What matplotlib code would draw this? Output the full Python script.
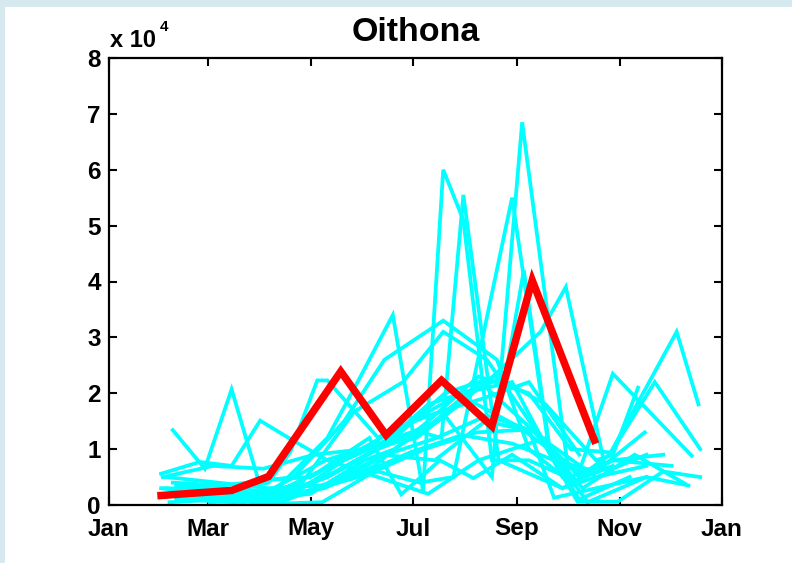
import matplotlib
matplotlib.use("Agg")
import matplotlib.pyplot as plt
from matplotlib.patches import Rectangle

plt.rcParams['font.family'] = ['Liberation Sans', 'DejaVu Sans']

title = "Oithona"
month_ticks = [0, 59, 120, 181, 243, 304, 365]
month_labels = ["Jan", "Mar", "May", "Jul", "Sep", "Nov", "Jan"]
y_ticks = [0, 1, 2, 3, 4, 5, 6, 7, 8]

# mean series (day of year, abundance)
mean_day = [31, 73, 95, 138, 165, 198, 228, 252, 289]
mean_val = [1700, 2600, 5100, 23900, 12500, 22300, 14100, 40200, 11600]

# individual years (day of year, abundance)
y01_day = [31, 59, 90, 120, 152, 170, 200, 228, 246, 274, 300, 330]
y01_val = [3000, 2000, 1000, 2000, 8000, 10000, 16000, 5000, 68500, 5000, 8000, 9000]
y02_day = [45, 75, 100, 130, 148, 169, 187, 199, 211, 228, 250, 280]
y02_val = [1000, 500, 3000, 12000, 22000, 34000, 2500, 60000, 51000, 8000, 8000, 4000]
y03_day = [40, 70, 100, 130, 160, 186, 198, 211, 221, 232, 270, 300]
y03_val = [1000, 1000, 2000, 5000, 10000, 13000, 12000, 55500, 33000, 8000, 3000, 6000]
y04_day = [60, 95, 125, 160, 185, 205, 240, 262, 285, 320]
y04_val = [500, 1000, 3000, 6000, 4000, 5000, 55000, 10000, 500, 5000]
y05_day = [35, 65, 100, 130, 160, 190, 220, 236, 247, 262, 290, 320]
y05_val = [3000, 2500, 1500, 5000, 10000, 18000, 21000, 23000, 42000, 11000, 5000, 7000]
y06_day = [45, 75, 105, 135, 165, 195, 225, 257, 272, 296, 320]
y06_val = [2000, 3000, 2000, 6000, 11000, 15000, 22000, 31000, 39000, 6000, 9000]
y07_day = [40, 70, 100, 135, 165, 195, 225, 255, 280, 298, 338, 351]
y07_val = [3500, 3000, 1000, 4000, 9000, 12000, 16000, 13000, 5000, 9000, 31000, 18000]
y08_day = [32, 62, 92, 122, 152, 183, 213, 244, 280, 300, 347]
y08_val = [5000, 7000, 6500, 9000, 10000, 12000, 19000, 14000, 6000, 23500, 8800]
y09_day = [35, 65, 95, 128, 158, 190, 220, 250, 275, 299, 325, 352]
y09_val = [2000, 1500, 1000, 3000, 7000, 15000, 23000, 20000, 10000, 9400, 22000, 10000]
y10_day = [45, 80, 110, 140, 170, 200, 230, 260, 290, 300, 315]
y10_val = [1000, 500, 2000, 8000, 12000, 20000, 23000, 18000, 8000, 9000, 21000]
y11_day = [38, 68, 110, 140, 164, 199, 231, 250, 275, 300]
y11_val = [4000, 3500, 5000, 15000, 26000, 33000, 26000, 10000, 4000, 7000]
y12_day = [50, 80, 115, 146, 175, 199, 225, 255, 280, 310]
y12_val = [1500, 1000, 4000, 16700, 22000, 31000, 26000, 13000, 1000, 5000]
y13_day = [40, 70, 95, 108, 124, 130, 160, 190, 222, 250, 280]
y13_val = [3000, 2500, 4000, 9500, 22300, 22300, 12100, 16000, 19000, 22000, 9000]
y14_day = [38, 57, 73, 89, 120, 150, 180, 210, 240, 270]
y14_val = [13400, 6500, 20700, 4400, 5000, 10000, 15000, 20000, 22000, 5000]
y15_day = [31, 54, 73, 90, 107, 130, 160, 190, 220, 260]
y15_val = [5600, 7700, 7000, 15100, 12000, 8000, 5000, 2000, 8000, 12000]
y16_day = [36, 66, 97, 127, 158, 188, 219, 250, 265, 290, 320, 345]
y16_val = [500, 1000, 200, 500, 6000, 10000, 13000, 13500, 1300, 3000, 5000, 3500]
y17_day = [42, 72, 102, 133, 163, 194, 224, 255, 279, 303, 330, 352]
y17_val = [3000, 1000, 500, 4000, 9000, 8000, 15000, 13000, 600, 600, 6000, 5000]
y18_day = [33, 64, 94, 125, 155, 174, 197, 217, 240, 270, 300, 335]
y18_val = [3000, 2000, 1500, 6000, 12000, 1900, 8000, 4800, 9000, 3000, 8000, 7000]
y19_day = [34, 65, 95, 126, 150, 180, 210, 240, 265, 290, 319]
y19_val = [5000, 4000, 3000, 3500, 5500, 9500, 12500, 11000, 8000, 6000, 13000]
y20_day = [37, 68, 98, 129, 160, 190, 221, 252, 282, 313, 343]
y20_val = [2000, 1000, 3000, 8000, 11000, 14000, 22000, 13500, 3000, 9000, 3800]

years = [
    (y01_day, y01_val), (y02_day, y02_val), (y03_day, y03_val), (y04_day, y04_val),
    (y05_day, y05_val), (y06_day, y06_val), (y07_day, y07_val), (y08_day, y08_val),
    (y09_day, y09_val), (y10_day, y10_val), (y11_day, y11_val), (y12_day, y12_val),
    (y13_day, y13_val), (y14_day, y14_val), (y15_day, y15_val), (y16_day, y16_val),
    (y17_day, y17_val), (y18_day, y18_val), (y19_day, y19_val), (y20_day, y20_val),
]

W, H = 792, 563
fig = plt.figure(figsize=(W / 100, H / 100), dpi=100)
fig.patch.set_facecolor('#d6e9ee')
fig.patches.append(Rectangle((5 / W, 0), 1 - 5 / W, 1 - 6.5 / H, transform=fig.transFigure,
                             facecolor='white', edgecolor='none', zorder=-10))

ax = fig.add_axes([109 / W, (H - 505) / H, 613 / W, (505 - 58) / H])
ax.set_zorder(5)
ax.set_facecolor('white')

for d, v in years:
    ax.plot(d, [x / 1e4 for x in v], color='#00ffff', lw=2.7, solid_joinstyle='miter')
ax.plot(mean_day, [x / 1e4 for x in mean_val], color='#ff0000', lw=5.4, solid_joinstyle='miter')

ax.set_xlim(0, 365)
ax.set_ylim(0, 8)
ax.set_xticks(month_ticks)
ax.set_xticklabels(month_labels)
ax.set_yticks(y_ticks)
ax.set_yticklabels([str(t) for t in y_ticks])
ax.tick_params(direction='in', length=6, width=1.5, top=True, right=True,
               labelsize=17.5, pad=6)
ax.tick_params(axis='x', pad=9)
for lab in ax.get_xticklabels() + ax.get_yticklabels():
    lab.set_fontweight('bold')
for s in ax.spines.values():
    s.set_linewidth(1.6)

ax.set_title(title, fontsize=24.5, fontweight='bold', pad=12)

fig.text(110 / W, 1 - 47 / H, "x 10", fontsize=17, fontweight='bold', ha='left', va='baseline')
fig.text(160 / W, 1 - 31 / H, "4", fontsize=11, fontweight='bold', ha='left', va='baseline')

fig.savefig("out.png", dpi=100, facecolor=fig.get_facecolor())
